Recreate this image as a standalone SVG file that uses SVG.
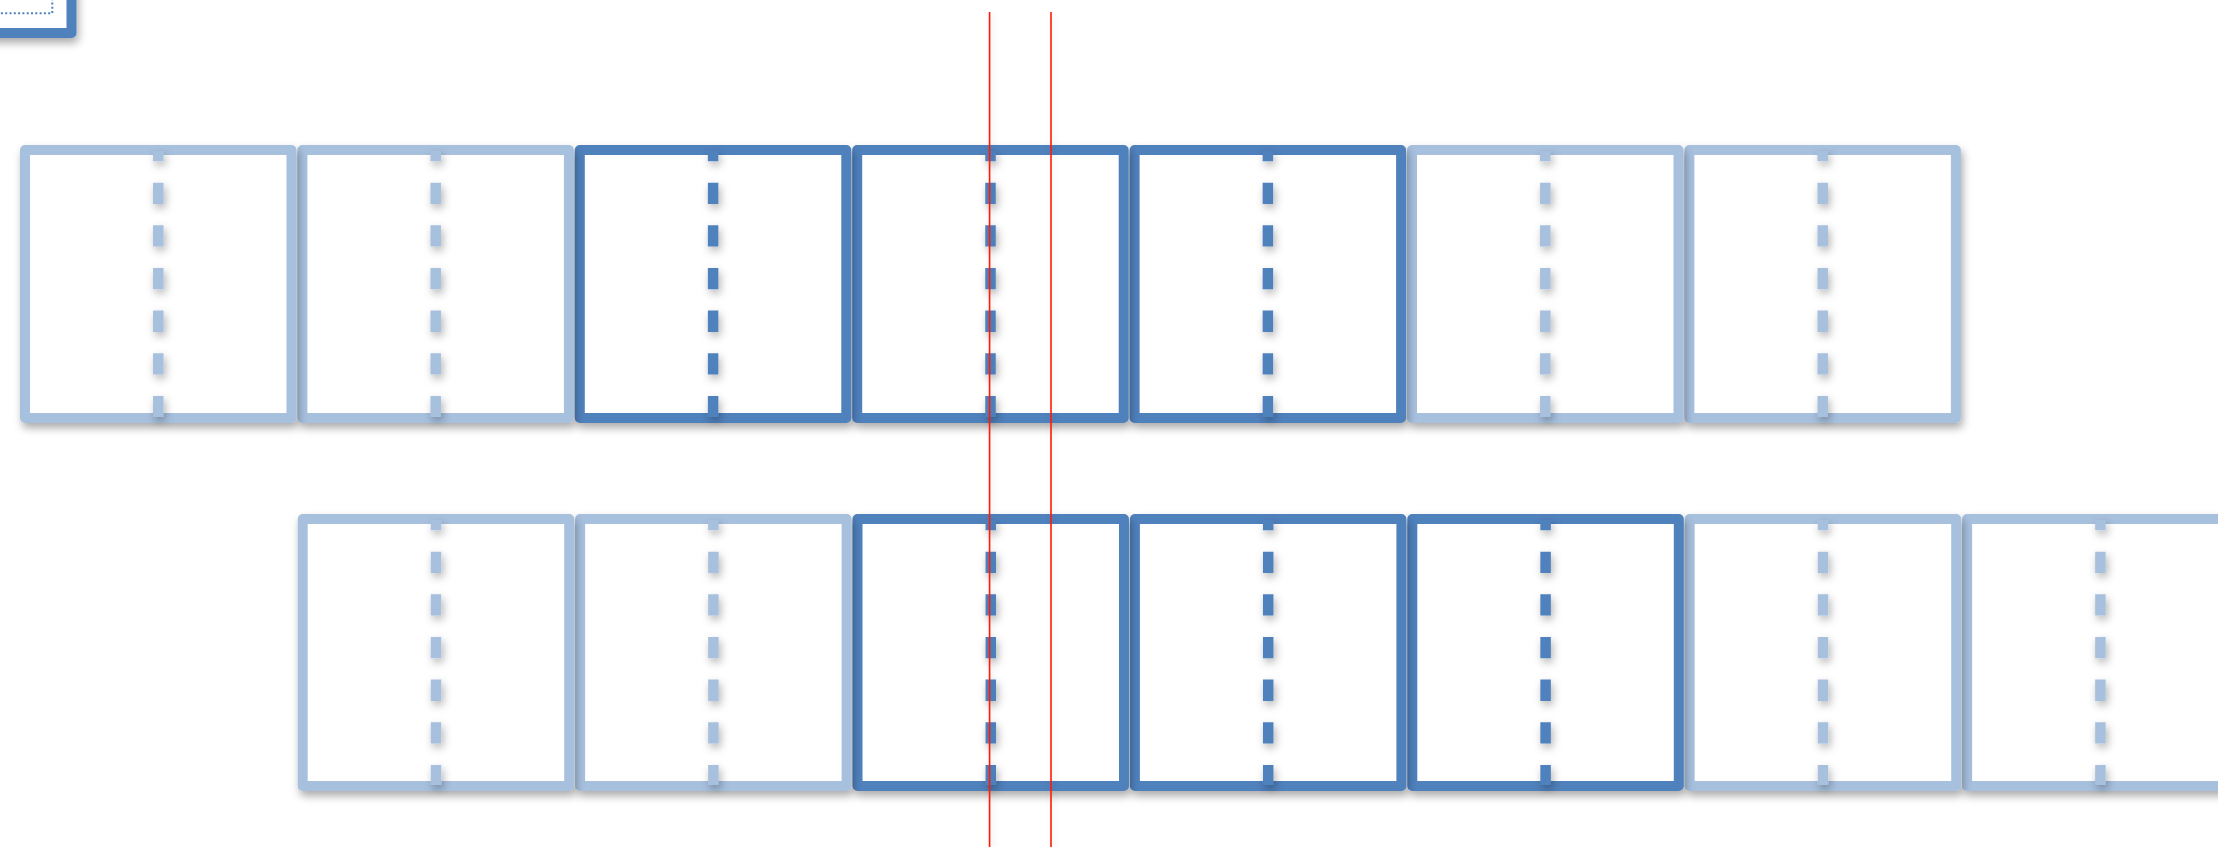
<svg xmlns="http://www.w3.org/2000/svg" width="2218" height="847" viewBox="0 0 2218 847">
<defs>
<filter id="sh" x="-20%" y="-20%" width="150%" height="150%">
<feDropShadow dx="2" dy="5" stdDeviation="4" flood-color="#000" flood-opacity="0.33"/>
</filter>
<filter id="shd" filterUnits="userSpaceOnUse" x="0" y="0" width="2218" height="847">
<feDropShadow dx="2" dy="4" stdDeviation="4.5" flood-color="#000" flood-opacity="0.3"/>
</filter>
<filter id="shr" filterUnits="userSpaceOnUse" x="0" y="0" width="2218" height="847">
<feDropShadow dx="2" dy="3" stdDeviation="3" flood-color="#000" flood-opacity="0.12"/>
</filter>
</defs>
<style>
.box{fill:#fff;stroke-width:10;stroke-linejoin:round;}
.dash{stroke-width:10.5;stroke-dasharray:21.3 21.35;stroke-dashoffset:11;}
.lt .box,.lt .dash{stroke:#A7C0DE;}
.dk .box,.dk .dash{stroke:#4F81BD;}
.red{stroke:#FF1A00;stroke-width:1.6;}
</style>
<rect width="2218" height="847" fill="#fff"/>
<g id="corner">
<rect class="box" x="-100" y="-100" width="171.5" height="133" stroke="#4F81BD" filter="url(#sh)"/>
<rect x="-50" y="-50" width="102.3" height="63.3" fill="none" stroke="#4F81BD" stroke-width="2" stroke-dasharray="2 2.3"/>
</g>
<g id="row-top">
<g id="t7" class="lt"><rect class="box" x="1689.4" y="150" width="266.5" height="268" filter="url(#sh)"/><line class="dash" x1="1822.7" y1="151" x2="1822.7" y2="417" filter="url(#shd)"/></g>
<g id="t6" class="lt"><rect class="box" x="1412" y="150" width="266.5" height="268" filter="url(#sh)"/><line class="dash" x1="1545.3" y1="151" x2="1545.3" y2="417" filter="url(#shd)"/></g>
<g id="t5" class="dk"><rect class="box" x="1134.6" y="150" width="266.5" height="268" filter="url(#sh)"/><line class="dash" x1="1267.9" y1="151" x2="1267.9" y2="417" filter="url(#shd)"/></g>
<g id="t4" class="dk"><rect class="box" x="857.2" y="150" width="266.5" height="268" filter="url(#sh)"/><line class="dash" x1="990.5" y1="151" x2="990.5" y2="417" filter="url(#shd)"/></g>
<g id="t3" class="dk"><rect class="box" x="579.8" y="150" width="266.5" height="268" filter="url(#sh)"/><line class="dash" x1="713.1" y1="151" x2="713.1" y2="417" filter="url(#shd)"/></g>
<g id="t2" class="lt"><rect class="box" x="302.4" y="150" width="266.5" height="268" filter="url(#sh)"/><line class="dash" x1="435.7" y1="151" x2="435.7" y2="417" filter="url(#shd)"/></g>
<g id="t1" class="lt"><rect class="box" x="25" y="150" width="266.5" height="268" filter="url(#sh)"/><line class="dash" x1="158.3" y1="151" x2="158.3" y2="417" filter="url(#shd)"/></g>
</g>
<g id="row-bottom">
<g id="b8" class="lt"><rect class="box" x="1967.1" y="519" width="266.5" height="267" filter="url(#sh)"/><line class="dash" x1="2100.4" y1="520" x2="2100.4" y2="785" filter="url(#shd)"/></g>
<g id="b7" class="lt"><rect class="box" x="1689.7" y="519" width="266.5" height="267" filter="url(#sh)"/><line class="dash" x1="1823" y1="520" x2="1823" y2="785" filter="url(#shd)"/></g>
<g id="b6" class="dk"><rect class="box" x="1412.3" y="519" width="266.5" height="267" filter="url(#sh)"/><line class="dash" x1="1545.6" y1="520" x2="1545.6" y2="785" filter="url(#shd)"/></g>
<g id="b5" class="dk"><rect class="box" x="1134.9" y="519" width="266.5" height="267" filter="url(#sh)"/><line class="dash" x1="1268.2" y1="520" x2="1268.2" y2="785" filter="url(#shd)"/></g>
<g id="b4" class="dk"><rect class="box" x="857.5" y="519" width="266.5" height="267" filter="url(#sh)"/><line class="dash" x1="990.8" y1="520" x2="990.8" y2="785" filter="url(#shd)"/></g>
<g id="b3" class="lt"><rect class="box" x="580.1" y="519" width="266.5" height="267" filter="url(#sh)"/><line class="dash" x1="713.4" y1="520" x2="713.4" y2="785" filter="url(#shd)"/></g>
<g id="b2" class="lt"><rect class="box" x="302.7" y="519" width="266.5" height="267" filter="url(#sh)"/><line class="dash" x1="436" y1="520" x2="436" y2="785" filter="url(#shd)"/></g>
</g>
<g id="connectors">
<line class="red" x1="989.6" y1="12" x2="989.6" y2="847" filter="url(#shr)"/>
<line class="red" x1="1051" y1="12" x2="1051" y2="847" filter="url(#shr)"/>
</g>
</svg>
